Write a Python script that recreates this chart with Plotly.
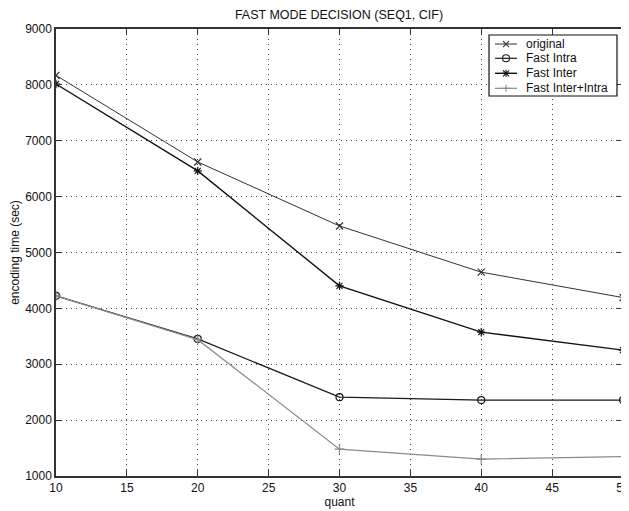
import plotly.graph_objects as go

quant = [10, 20, 30, 40, 50]
original = [8170, 6620, 5475, 4648, 4193]
fast_intra = [4224, 3454, 2411, 2358, 2358]
fast_inter = [8016, 6460, 4403, 3574, 3252]
fast_inter_intra = [4224, 3440, 1481, 1302, 1349]

names = ["original", "Fast Intra", "Fast Inter", "Fast Inter+Intra"]
colors = ["#333333", "#1a1a1a", "#111111", "#8a8a8a"]
symbols = ["x-thin-open", "circle-open", "asterisk-open", "cross-thin-open"]
widths = [1.0, 1.2, 1.4, 1.2]
values = [original, fast_intra, fast_inter, fast_inter_intra]

font = "Liberation Sans, Arial, Helvetica, sans-serif"

fig = go.Figure()
for name, vals, col, sym, w in zip(names, values, colors, symbols, widths):
    fig.add_trace(go.Scatter(
        x=quant, y=vals, name=name, mode="lines+markers", showlegend=False,
        line=dict(color=col, width=w),
        marker=dict(symbol=sym, size=7, color=col, line=dict(color=col, width=1.2)),
    ))

# custom legend (MATLAB-style compact box), drawn in the plot-area paper frame
leg_x0, leg_x1, leg_y0, leg_y1 = 0.7637, 0.9894, 0.8501, 0.9866
row_y = [0.9664, 0.9345, 0.9009, 0.8673]
line_x0, line_x1, mark_x, text_x = 0.7743, 0.8131, 0.7937, 0.8254

shapes = [dict(type="rect", xref="paper", yref="paper", x0=leg_x0, x1=leg_x1, y0=leg_y0, y1=leg_y1,
               line=dict(color="#111", width=1.2), fillcolor="white", layer="above")]
annotations = []


def glyph(kind, cx, cy, col):
    r = 3.5
    segs = []
    base = dict(xref="paper", yref="paper", xsizemode="pixel", ysizemode="pixel",
                xanchor=cx, yanchor=cy, layer="above", line=dict(color=col, width=1.1))
    if kind == "circle-open":
        return [dict(type="circle", x0=-r, x1=r, y0=-r, y1=r, **base)]
    if kind in ("x-thin-open", "asterisk-open"):
        segs += [(-3, -3, 3, 3), (-3, 3, 3, -3)]
    if kind in ("cross-thin-open", "asterisk-open"):
        segs += [(-r, 0, r, 0), (0, -r, 0, r)]
    return [dict(type="line", x0=a, y0=b, x1=c, y1=d, **base) for a, b, c, d in segs]


for name, col, sym, w, ry in zip(names, colors, symbols, widths, row_y):
    shapes.append(dict(type="line", xref="paper", yref="paper", x0=line_x0, x1=line_x1, y0=ry, y1=ry,
                       line=dict(color=col, width=w), layer="above"))
    shapes += glyph(sym, mark_x, ry, col)
    annotations.append(dict(xref="paper", yref="paper", x=text_x, y=ry, xanchor="left", yanchor="middle",
                            text=name, showarrow=False, font=dict(family=font, size=12, color="#111")))

axis_common = dict(
    showline=True, linecolor="#333", linewidth=1.5, mirror="ticks",
    ticks="inside", ticklen=6, tickcolor="#333",
    showgrid=True, gridcolor="#444", griddash="1px,4px", gridwidth=1,
    zeroline=False, tickfont=dict(family=font, size=12, color="#111"),
    ticklabeloverflow="allow",
)

fig.update_layout(
    width=621, height=503,
    margin=dict(l=48, r=6, t=21, b=35, autoexpand=False),
    paper_bgcolor="white", plot_bgcolor="white",
    xaxis=dict(range=[10, 50], dtick=5, tick0=10,
               title=dict(text="quant", font=dict(family=font, size=12, color="#111"), standoff=1),
               **axis_common),
    yaxis=dict(range=[1000, 9000], dtick=1000, tick0=1000,
               title=dict(text="encoding time (sec)", font=dict(family=font, size=12, color="#111"), standoff=6),
               **axis_common),
    title=dict(text="FAST MODE DECISION (SEQ1, CIF)", x=0.533, xanchor="center",
               y=0.987, yanchor="middle", font=dict(family=font, size=12.5, color="#111")),
    shapes=shapes, annotations=annotations,
    showlegend=False,
)

fig.write_html("out.html")
